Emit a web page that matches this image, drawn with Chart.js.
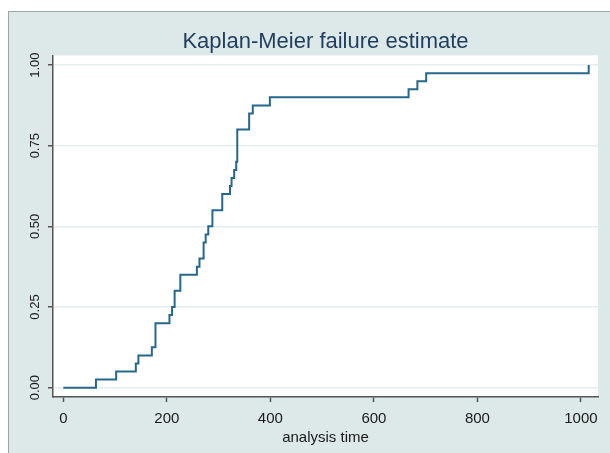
<!DOCTYPE html>
<html>
<head>
<meta charset="utf-8">
<script src="https://cdn.jsdelivr.net/npm/chart.js@4/dist/chart.umd.min.js"></script>
<style>
  html, body { margin: 0; padding: 0; background: #ffffff; }
  #wrap { position: relative; width: 610px; height: 453px; overflow: hidden; }
  #frame { position: absolute; left: 8px; top: 11px; width: 640px; height: 480px;
           border: 1.5px solid #9ea6a6; background: #dde9e8; }
  #c { position: absolute; left: 0; top: 0; }
</style>
</head>
<body>
<div id="wrap">
  <div id="frame"></div>
  <canvas id="c" width="610" height="453"></canvas>
</div>
<script>
// Kaplan-Meier failure estimate: step times and cumulative failure values
const times   = [0, 63, 102, 140, 145, 171, 178, 205, 210, 215, 226, 258, 263, 271, 275, 280, 288, 307, 322, 325, 330, 334, 336, 359, 366, 399, 667, 684, 701, 1015];
const failure = [0, 0.025, 0.05, 0.075, 0.10, 0.125, 0.20, 0.225, 0.25, 0.30, 0.35, 0.375, 0.40, 0.45, 0.475, 0.50, 0.55, 0.60, 0.625, 0.65, 0.675, 0.70, 0.80, 0.85, 0.875, 0.90, 0.925, 0.95, 0.975, 1.0];
const xTicks = [0, 200, 400, 600, 800, 1000];
const yTicks = [0, 0.25, 0.5, 0.75, 1.0];
const titleText = 'Kaplan-Meier failure estimate';
const xTitle = 'analysis time';

const FONT = "'Liberation Sans', Arial, sans-serif";

const plotBg = {
  id: 'plotBg',
  beforeDraw(chart) {
    const { ctx, chartArea: a } = chart;
    ctx.save();
    ctx.fillStyle = '#ffffff';
    ctx.fillRect(a.left, a.top, a.right - a.left, a.bottom - a.top);
    ctx.restore();
  }
};

new Chart(document.getElementById('c'), {
  type: 'line',
  data: {
    datasets: [{
      data: times.map((t, i) => ({ x: t, y: failure[i] })),
      stepped: 'before',
      borderColor: '#26678c',
      borderWidth: 2,
      pointRadius: 0,
      fill: false
    }]
  },
  options: {
    responsive: false,
    animation: false,
    events: [],
    layout: { padding: { left: 0, right: 12, top: 0, bottom: 0 } },
    plugins: {
      legend: { display: false },
      tooltip: { enabled: false },
      title: {
        display: true,
        text: titleText,
        color: '#1f3d5e',
        fullSize: false,
        font: { family: FONT, size: 22, weight: 'normal' },
        padding: { top: 29, bottom: 0 }
      }
    },
    scales: {
      x: {
        type: 'linear',
        min: -20,
        max: 1033,
        afterBuildTicks: s => { s.ticks = xTicks.map(v => ({ value: v })); },
        afterFit: s => { s.height = 56; },
        grid: { drawOnChartArea: false, drawTicks: true, tickLength: 5, tickColor: '#555', tickWidth: 1.5 },
        border: { display: true, color: '#555', width: 1.5 },
        ticks: { color: '#1a1a1a', font: { family: FONT, size: 15 }, padding: 8, maxRotation: 0, minRotation: 0,
                 callback: v => String(v) },
        title: { display: true, text: xTitle, color: '#1a1a1a', font: { family: FONT, size: 15 }, padding: { top: 0, bottom: 6 } }
      },
      y: {
        type: 'linear',
        min: -0.029,
        max: 1.03,
        afterBuildTicks: s => { s.ticks = yTicks.map(v => ({ value: v })); },
        afterFit: s => { s.width = 53; },
        grid: { drawOnChartArea: true, color: '#e6eded', lineWidth: 1.5, drawTicks: true, tickLength: 5, tickColor: '#555', tickWidth: 1.5 },
        border: { display: true, color: '#555', width: 1.5 },
        ticks: {
          color: '#1a1a1a',
          font: { family: FONT, size: 13 },
          minRotation: 90, maxRotation: 90,
          crossAlign: 'center',
          padding: 0,
          callback: v => v.toFixed(2)
        }
      }
    }
  },
  plugins: [plotBg]
});
</script>
</body>
</html>
